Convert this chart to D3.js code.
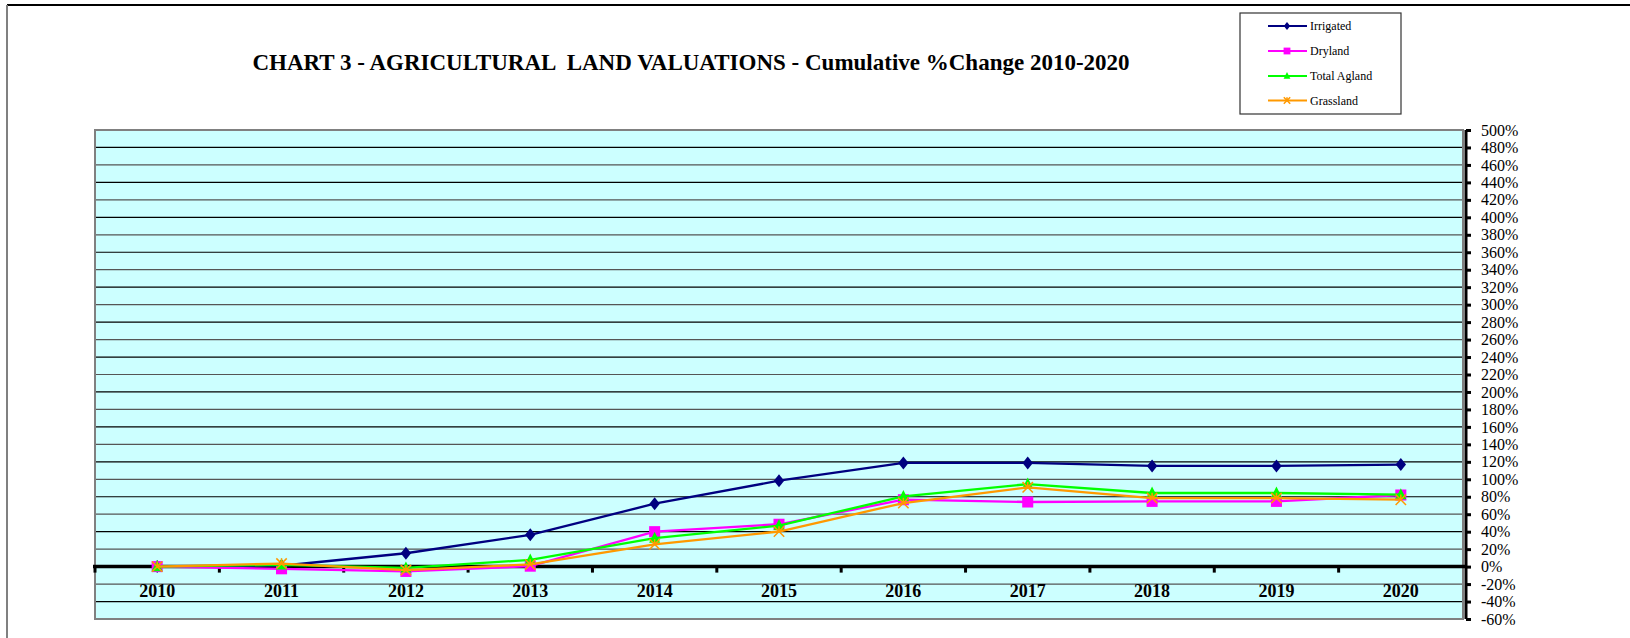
<!DOCTYPE html>
<html><head><meta charset="utf-8">
<script src="https://cdn.jsdelivr.net/npm/d3@7"></script>
<style>html,body{margin:0;padding:0;background:#fff;}svg{display:block;}</style>
</head><body>
<svg id="chart" width="1630" height="638"></svg>
<script>
const years = ["2010","2011","2012","2013","2014","2015","2016","2017","2018","2019","2020"];
const irrigated = [0, 1, 15.3, 36.4, 72, 98.4, 118.7, 118.7, 115.3, 115.3, 116.8];
const dryland = [0, -2.5, -5.5, 0.5, 40, 48.5, 76.6, 74, 74.7, 74.7, 82];
const totalAgland = [0, 2, -1.5, 7.7, 32.5, 47, 80.4, 94.5, 84.3, 84.3, 82.4];
const grassland = [0, 3.5, -4, 2.5, 25.5, 40.2, 72.8, 90.8, 78.5, 78.5, 76.6];
const yTicks = d3.range(-60, 501, 20);
const seriesNames = ["Irrigated", "Dryland", "Total Agland", "Grassland"];
const title = "CHART 3 - AGRICULTURAL  LAND VALUATIONS - Cumulative %Change 2010-2020";

const series = [
  {name: seriesNames[0], values: irrigated, color: "#000080", marker: "diamond"},
  {name: seriesNames[1], values: dryland, color: "#FF00FF", marker: "square"},
  {name: seriesNames[2], values: totalAgland, color: "#00FF00", marker: "triangle"},
  {name: seriesNames[3], values: grassland, color: "#FF9900", marker: "x"}
];

const svg = d3.select("#chart");
const L = 95, R = 1463, T = 130, B = 619;
const x = d3.scaleBand().domain(years).range([L, R]).padding(0);
const y = d3.scaleLinear().domain([-60, 500]).range([B, T]);
const serif = "'Liberation Serif','Times New Roman',serif";

// outer frame
svg.append("line").attr("x1", 7).attr("x2", 1630).attr("y1", 5).attr("y2", 5).attr("stroke", "#000").attr("stroke-width", 2);
svg.append("line").attr("x1", 7).attr("x2", 7).attr("y1", 5).attr("y2", 638).attr("stroke", "#808080").attr("stroke-width", 2);

// title
svg.append("text").attr("x", 691).attr("y", 70).attr("text-anchor", "middle")
  .attr("font-family", serif).attr("font-weight", "bold").attr("font-size", 23)
  .style("white-space", "pre").attr("xml:space", "preserve").text(title);

// plot background
svg.append("rect").attr("x", L).attr("y", T).attr("width", R - L).attr("height", B - T)
  .attr("fill", "#CCFFFF");

// gridlines
svg.append("g").selectAll("line").data(yTicks.filter(d => d !== 0 && d !== -60 && d !== 500)).join("line")
  .attr("x1", L).attr("x2", R).attr("y1", d => y(d)).attr("y2", d => y(d))
  .attr("stroke", d => (d % 40 === 0) ? "#000" : "#555").attr("stroke-width", 1.2);

// plot border
svg.append("rect").attr("x", L).attr("y", T).attr("width", R - L).attr("height", B - T)
  .attr("fill", "none").attr("stroke", "#808080").attr("stroke-width", 2);

// x axis at 0
const xAxis = d3.axisBottom(x).tickSize(0).tickFormat(d => d);
const gx = svg.append("g").attr("transform", `translate(0,${y(0)})`).call(xAxis);
gx.select(".domain").remove();
gx.selectAll("text").attr("font-family", serif).attr("font-weight", "bold").attr("font-size", 18)
  .attr("fill", "#000").attr("dy", 0).attr("y", 30);
svg.append("line").attr("x1", L - 2).attr("x2", R + 3).attr("y1", y(0)).attr("y2", y(0))
  .attr("stroke", "#000").attr("stroke-width", 3.5);
svg.append("g").selectAll("line").data(years).join("line")
  .attr("x1", d => x(d)).attr("x2", d => x(d)).attr("y1", y(0)).attr("y2", y(0) + 6)
  .attr("stroke", "#000").attr("stroke-width", 3);

// right y axis
const yAxis = d3.axisRight(y).tickValues(yTicks).tickSize(5).tickFormat(d => d + "%");
const gy = svg.append("g").attr("transform", `translate(${R + 3},0)`).call(yAxis);
gy.select(".domain").attr("stroke", "#000").attr("stroke-width", 3).attr("d", `M0,${T}V${B}`);
gy.selectAll(".tick line").attr("stroke", "#000").attr("stroke-width", 3);
gy.selectAll(".tick text").attr("font-family", serif).attr("font-size", 16).attr("fill", "#000")
  .attr("x", 15).attr("text-anchor", "start");

// markers
function drawMarker(g, type, color, cx, cy, s) {
  if (type === "diamond") {
    g.append("path").attr("d", `M${cx},${cy - s}L${cx + s * 0.8},${cy}L${cx},${cy + s}L${cx - s * 0.8},${cy}Z`).attr("fill", color);
  } else if (type === "square") {
    g.append("rect").attr("x", cx - s * 0.85).attr("y", cy - s * 0.85).attr("width", s * 1.7).attr("height", s * 1.7).attr("fill", color);
  } else if (type === "triangle") {
    g.append("path").attr("d", `M${cx},${cy - s}L${cx + s * 0.85},${cy + s * 0.7}L${cx - s * 0.85},${cy + s * 0.7}Z`).attr("fill", color);
  } else if (type === "x") {
    const k = s * 0.8;
    g.append("path").attr("d", `M${cx - k},${cy - k}L${cx + k},${cy + k}M${cx - k},${cy + k}L${cx + k},${cy - k}M${cx},${cy - k}L${cx},${cy - k*0.2}`)
      .attr("stroke", color).attr("stroke-width", 1.5).attr("fill", "none");
  }
}

const line = d3.line().x((d, i) => x(years[i]) + x.bandwidth() / 2).y(d => y(d));
series.forEach(s => {
  const g = svg.append("g");
  g.append("path").attr("d", line(s.values)).attr("fill", "none").attr("stroke", s.color).attr("stroke-width", 2.3);
  s.values.forEach((v, i) => drawMarker(g, s.marker, s.color, x(years[i]) + x.bandwidth() / 2, y(v), 6.5));
});

// legend
const lg = svg.append("g");
lg.append("rect").attr("x", 1240).attr("y", 13).attr("width", 161).attr("height", 101)
  .attr("fill", "#fff").attr("stroke", "#333").attr("stroke-width", 1.2);
const rowY = [26, 51, 76, 100.5];
series.forEach((s, i) => {
  const ry = rowY[i];
  lg.append("line").attr("x1", 1268).attr("x2", 1307).attr("y1", ry).attr("y2", ry).attr("stroke", s.color).attr("stroke-width", 2);
  drawMarker(lg, s.marker, s.color, 1287, ry, 4);
  lg.append("text").attr("x", 1310).attr("y", ry + 4).attr("font-family", serif).attr("font-size", 12)
    .attr("fill", "#000").text(s.name);
});
</script>
</body></html>
